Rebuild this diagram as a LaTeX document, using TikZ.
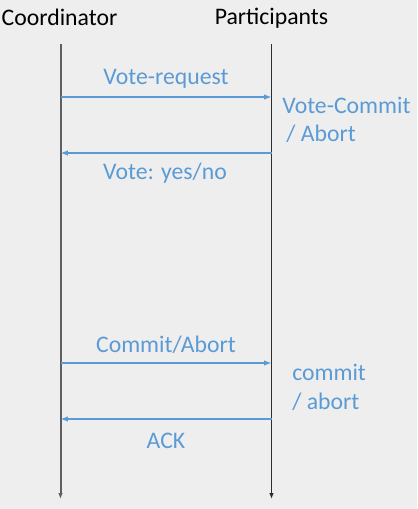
\documentclass[tikz,border=0pt]{standalone}
\usepackage{fontspec}
\setmainfont{Carlito}
\usetikzlibrary{arrows.meta}
\definecolor{msgblue}{RGB}{91,155,213}
\definecolor{bggray}{RGB}{238,238,238}
\definecolor{lifegray}{RGB}{95,95,95}
\definecolor{lifedark}{RGB}{45,45,45}
\tikzset{
  lbl/.style={inner sep=0pt,anchor=base,font=\fontsize{17.8}{20}\selectfont},
  msg/.style={lbl,text=msgblue},
  msgline/.style={draw=msgblue,line width=0.8pt,-{Latex[length=5.5pt,width=4pt]}},
  lifeline/.style={-{Latex[length=4.5pt,width=3.5pt]}}
}
\begin{document}
\begin{tikzpicture}[x=0.75pt,y=-0.75pt]
\fill[bggray] (0,0) rectangle (417,509);
\useasboundingbox (0,0) rectangle (417,509);
\node[lbl] (coord) at (59.5,26) {Coordinator};
\node[lbl] (part) at (271.5,25) {Participants};
\coordinate (ctop) at (60.5,44); % lifelines
\coordinate (cbot) at (60.5,499);
\coordinate (ptop) at (271.5,44);
\coordinate (pbot) at (271.5,499);
\draw[lifeline,lifegray,line width=1.5pt] (ctop) -- (cbot);
\draw[lifeline,lifedark,line width=1pt] (ptop) -- (pbot);
\coordinate (c1) at (60.5,97); % phase one
\coordinate (p1) at (271.5,97);
\coordinate (c2) at (60.5,153);
\coordinate (p2) at (271.5,153);
\draw[msgline] (c1) -- (p1);
\draw[msgline] (p2) -- (c2);
\node[msg] (req) at (166,85) {Vote-request};
\node[msg,anchor=base west] (vcommit) at (282,114) {Vote-Commit};
\node[msg,anchor=base west] (vabort) at (286,142) {/ Abort};
\node[msg] (vote) at (165,180) {Vote: yes/no};
\coordinate (c3) at (60.5,363); % phase two
\coordinate (p3) at (271.5,363);
\coordinate (c4) at (60.5,419);
\coordinate (p4) at (271.5,419);
\draw[msgline] (c3) -- (p3);
\draw[msgline] (p4) -- (c4);
\node[msg] (decide) at (166,352) {Commit/Abort};
\node[msg,anchor=base west] (lcommit) at (292,380) {commit};
\node[msg,anchor=base west] (labort) at (292,409) {/ abort};
\node[msg] (ack) at (166,448) {ACK};
\end{tikzpicture}
\end{document}
